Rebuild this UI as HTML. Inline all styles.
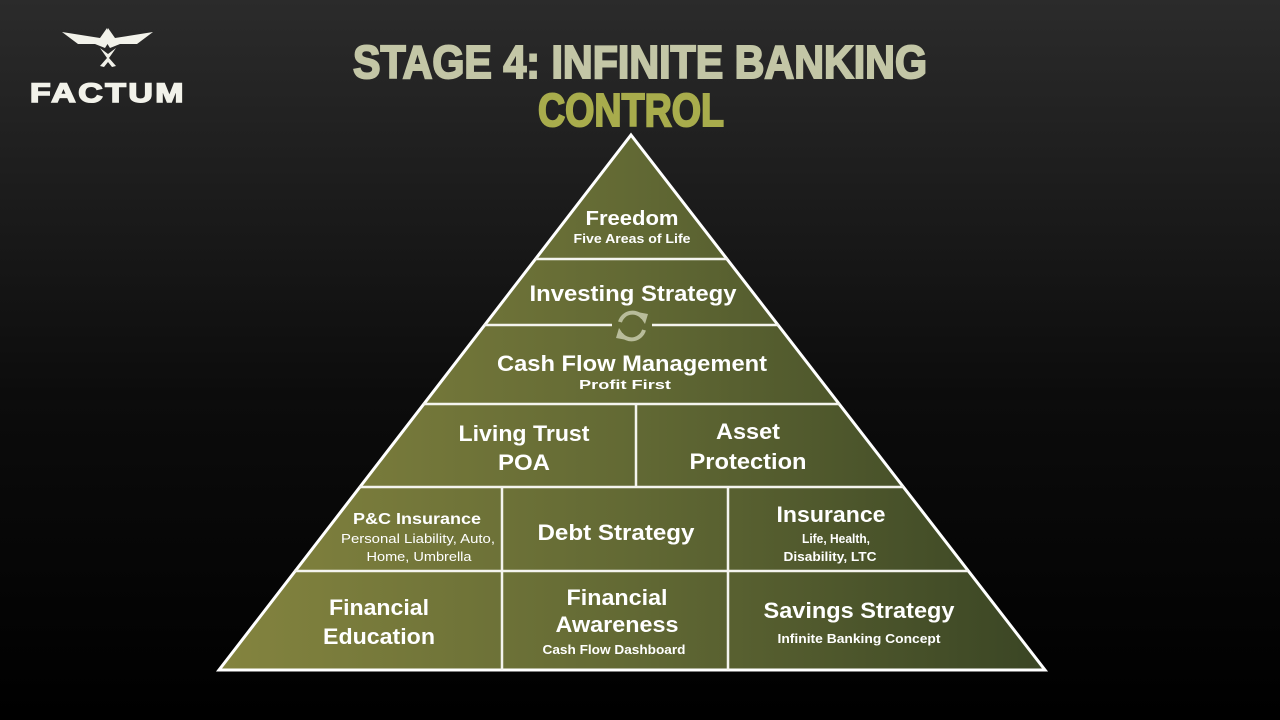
<!DOCTYPE html>
<html><head><meta charset="utf-8"><style>
html,body{margin:0;padding:0;width:1280px;height:720px;overflow:hidden;background:#000}
svg{display:block}
text{font-family:"Liberation Sans",sans-serif;font-weight:bold;fill:#fff;text-anchor:middle}
</style></head><body>
<svg width="1280" height="720" viewBox="0 0 1280 720">
<defs>
<linearGradient id="bg" x1="0" y1="0" x2="0" y2="1">
<stop offset="0" stop-color="#2b2b2b"/><stop offset="0.55" stop-color="#0c0c0c"/><stop offset="1" stop-color="#000"/>
</linearGradient>
<linearGradient id="py" x1="219" y1="0" x2="1045" y2="0" gradientUnits="userSpaceOnUse">
<stop offset="0" stop-color="#84843f"/><stop offset="0.5" stop-color="#626934"/><stop offset="1" stop-color="#3a4524"/>
</linearGradient>
</defs>
<rect width="1280" height="720" fill="url(#bg)"/>
<!-- logo -->
<g fill="#f2f2ea">
<path d="M62,32 L100,38 L107,28 L110,40 L105,48 L95,44 L78,44 Z"/>
<path d="M153,32 L115,38 L108,28 L105,40 L110,48 L120,44 L137,44 Z"/>
<path d="M100,48 L107,58 L100,66 L104,67 L108,62 L112,67 L116,66 L109,58 L116,48 L108,54 Z"/>
</g>
<text x="108" y="102" style="font-size:27px;fill:#f2f2ea;stroke:#f2f2ea;stroke-width:1.5;letter-spacing:2px" textLength="156" lengthAdjust="spacingAndGlyphs">FACTUM</text>
<!-- titles -->
<text x="640" y="78" style="font-size:46px;fill:#c3c6a6;stroke:#c3c6a6;stroke-width:2" textLength="574" lengthAdjust="spacingAndGlyphs">STAGE 4: INFINITE BANKING</text>
<text x="631" y="126" style="font-size:46px;fill:#a8ac4c;stroke:#a8ac4c;stroke-width:2" textLength="186" lengthAdjust="spacingAndGlyphs">CONTROL</text>
<!-- pyramid -->
<polygon points="631,135 1045,670 219,670" fill="url(#py)" stroke="#fff" stroke-width="3" stroke-linejoin="miter"/>
<g stroke="#f4f4ee" stroke-width="2.5">
<line x1="535" y1="259" x2="728" y2="259"/>
<line x1="484" y1="325" x2="612" y2="325"/>
<line x1="652" y1="325" x2="779" y2="325"/>
<line x1="423" y1="404" x2="840" y2="404"/>
<line x1="359" y1="487" x2="904" y2="487"/>
<line x1="294" y1="571" x2="968" y2="571"/>
<line x1="636" y1="404" x2="636" y2="487"/>
<line x1="502" y1="487" x2="502" y2="670"/>
<line x1="728" y1="487" x2="728" y2="670"/>
</g>
<!-- refresh icon -->
<g fill="none" stroke="#b8bc9a" stroke-width="4">
<path d="M620,322 A13,13 0 0 1 643,318"/>
<path d="M644,330 A13,13 0 0 1 621,334"/>
</g>
<polygon points="637,312 648,314 645,324" fill="#b8bc9a"/>
<polygon points="627,340 616,338 619,328" fill="#b8bc9a"/>
<!-- labels -->
<g>
<text x="632" y="225" style="font-size:20px" textLength="93" lengthAdjust="spacingAndGlyphs">Freedom</text>
<text x="632" y="243" style="font-size:13px" textLength="117" lengthAdjust="spacingAndGlyphs">Five Areas of Life</text>
<text x="633" y="301" style="font-size:22px" textLength="207" lengthAdjust="spacingAndGlyphs">Investing Strategy</text>
<text x="632" y="371" style="font-size:22px" textLength="270" lengthAdjust="spacingAndGlyphs">Cash Flow Management</text>
<text x="625" y="389" style="font-size:13px" textLength="92" lengthAdjust="spacingAndGlyphs">Profit First</text>
<text x="524" y="441" style="font-size:22px" textLength="131" lengthAdjust="spacingAndGlyphs">Living Trust</text>
<text x="524" y="470" style="font-size:22px" textLength="52" lengthAdjust="spacingAndGlyphs">POA</text>
<text x="748" y="439" style="font-size:22px" textLength="64" lengthAdjust="spacingAndGlyphs">Asset</text>
<text x="748" y="469" style="font-size:22px" textLength="117" lengthAdjust="spacingAndGlyphs">Protection</text>
<text x="417" y="524" style="font-size:16px" textLength="128" lengthAdjust="spacingAndGlyphs">P&amp;C Insurance</text>
<text x="418" y="543" style="font-size:13px;font-weight:normal" textLength="154" lengthAdjust="spacingAndGlyphs">Personal Liability, Auto,</text>
<text x="419" y="561" style="font-size:13px;font-weight:normal" textLength="105" lengthAdjust="spacingAndGlyphs">Home, Umbrella</text>
<text x="616" y="540" style="font-size:22px" textLength="157" lengthAdjust="spacingAndGlyphs">Debt Strategy</text>
<text x="831" y="522" style="font-size:22px" textLength="109" lengthAdjust="spacingAndGlyphs">Insurance</text>
<text x="836" y="543" style="font-size:13px" textLength="68" lengthAdjust="spacingAndGlyphs">Life, Health,</text>
<text x="830" y="561" style="font-size:13px" textLength="93" lengthAdjust="spacingAndGlyphs">Disability, LTC</text>
<text x="379" y="615" style="font-size:22px" textLength="100" lengthAdjust="spacingAndGlyphs">Financial</text>
<text x="379" y="644" style="font-size:22px" textLength="112" lengthAdjust="spacingAndGlyphs">Education</text>
<text x="617" y="605" style="font-size:22px" textLength="101" lengthAdjust="spacingAndGlyphs">Financial</text>
<text x="617" y="632" style="font-size:22px" textLength="123" lengthAdjust="spacingAndGlyphs">Awareness</text>
<text x="614" y="654" style="font-size:13px" textLength="143" lengthAdjust="spacingAndGlyphs">Cash Flow Dashboard</text>
<text x="859" y="618" style="font-size:22px" textLength="191" lengthAdjust="spacingAndGlyphs">Savings Strategy</text>
<text x="859" y="643" style="font-size:13px" textLength="163" lengthAdjust="spacingAndGlyphs">Infinite Banking Concept</text>
</g>
</svg>
</body></html>
